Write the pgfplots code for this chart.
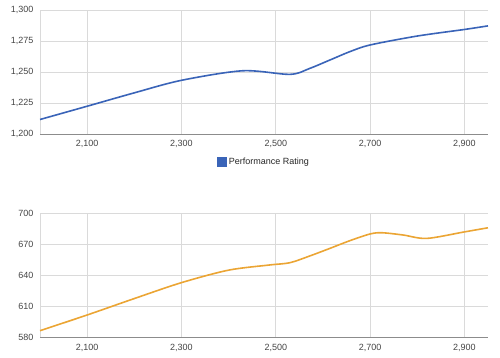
\documentclass[border=0pt]{standalone}
\usepackage{pgfplots}
\pgfplotsset{compat=1.18}
\usepackage{fontspec}
\setmainfont{Liberation Sans}
\definecolor{gblue}{HTML}{3A64B8}
\definecolor{gorange}{HTML}{EBA534}
\definecolor{gridc}{HTML}{DADADA}
\definecolor{txt}{HTML}{444444}
\begin{document}
\begin{tikzpicture}
\path (0pt,0pt) rectangle (500pt,357pt);
\pgfplotsset{
  every axis/.append style={
    scale only axis, width=448pt, height=124pt,
    anchor=south west,
    xmin=2000, xmax=2950,
    xtick={2100,2300,2500,2700,2900},
    xticklabels={{2,100},{2,300},{2,500},{2,700},{2,900}},
    grid=major, major grid style={gridc, line width=0.8pt},
    axis x line*=bottom, axis y line*=left,
    x axis line style={color=black!45, line width=0.9pt, -},
    y axis line style={color=gridc, line width=0.8pt, -},
    major tick length=0pt,
    tick label style={font=\fontsize{9}{10}\selectfont, text=txt},
    /pgf/number format/assume math mode=true,
    xticklabel style={yshift=-3pt},
    yticklabel style={xshift=-3pt},
    clip=false,
  }
}
\begin{axis}[at={(40pt,223pt)},
  ymin=1200, ymax=1300, ytick={1200,1225,1250,1275,1300},
  yticklabels={{1,200},{1,225},{1,250},{1,275},{1,300}},
  legend style={draw=none, at={(0.5,0)}, anchor=center, yshift=-28pt,
    font=\fontsize{9}{10}\selectfont, text=black!85, fill=none},
  legend image code/.code={\fill[gblue] (0pt,-3.8pt) rectangle (8pt,4.2pt);},
]
\addplot[gblue, line width=1.6pt, smooth, tension=0.5] coordinates {
(2000,1211.7) (2100,1222.4) (2200,1233.2) (2300,1243.3) (2430,1251) (2530,1248.1) (2572,1252.9) (2615,1259.7) (2657,1266.4) (2700,1271.8) (2800,1279) (2900,1284.3) (2950,1287.2)
};
\addlegendentry{Performance Rating}
\end{axis}
\begin{axis}[at={(40pt,19.7pt)},
  ymin=580, ymax=700, ytick={580,610,640,670,700},
]
\addplot[gorange, line width=1.6pt, smooth, tension=0.5] coordinates {
(2000,586.4) (2100,601.6) (2200,617.5) (2300,632.9) (2400,645) (2487,650) (2530,652.2) (2572,658.7) (2615,666.1) (2657,673.5) (2700,680) (2725,681.2) (2770,679) (2820,675.7) (2900,682) (2950,686)
};
\end{axis}
\end{tikzpicture}
\end{document}
